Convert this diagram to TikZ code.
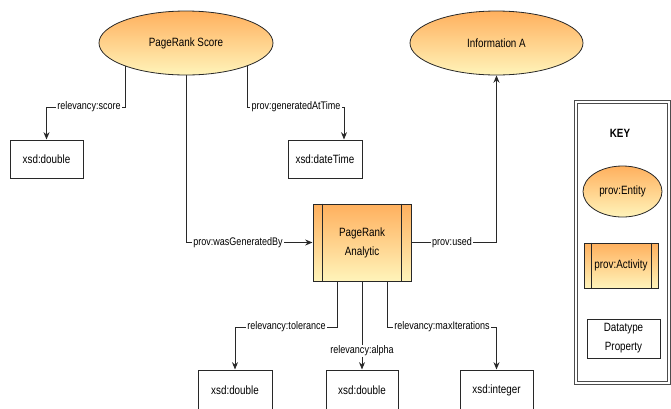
\documentclass[tikz,border=0pt]{standalone}
\usepackage{fontspec}
\setmainfont{Liberation Sans}[FakeStretch=0.82]
\usetikzlibrary{shapes.geometric,arrows.meta}
\pgfdeclarelayer{bg}
\pgfsetlayers{bg,main}
\definecolor{ortop}{RGB}{255,176,94}
\definecolor{orbot}{RGB}{255,244,186}
\definecolor{ln}{RGB}{40,40,40}
\newcommand\myNodeFont{\fontsize{9}{14.25}\selectfont}
\newcommand\myLblFont{\fontsize{8.25}{10}\selectfont}
\tikzset{
 ent/.style={ellipse, draw=ln, line width=0.6pt, top color=ortop, bottom color=orbot, inner sep=0pt, font=\myNodeFont},
 activity/.style={rectangle, draw=ln, line width=0.75pt, top color=ortop, bottom color=orbot, inner sep=0pt, align=center, font=\myNodeFont},
 dtype/.style={rectangle, draw=ln, line width=0.75pt, fill=white, inner sep=0pt, align=center, font=\myNodeFont},
 lbl/.style={fill=white, inner sep=0.8pt, font=\myLblFont},
 conn/.style={draw=ln, line width=0.75pt},
 arr/.style={conn, -{Stealth[length=5.5pt,width=4.5pt]}},
 keyframe/.style={rectangle, draw=black!70, line width=0.6pt, double=white, double distance=1.6pt, inner sep=0pt},
}
\begin{document}
\begin{tikzpicture}[x=0.75pt,y=-0.75pt]
\useasboundingbox (0,0) rectangle (671,408);
\clip (0,0) rectangle (671,408);
% main nodes
\node[ent, minimum width=130.5pt, minimum height=48pt] (score) at (186,43) {PageRank Score};
\node[ent, minimum width=129.75pt, minimum height=48pt] (info) at (496.5,43) {Information A};
\node[dtype, minimum width=54.75pt, minimum height=28.5pt] (dbl1) at (46.5,159) {xsd:double};
\node[dtype, minimum width=55.5pt, minimum height=28.5pt] (dt) at (325,159) {xsd:dateTime};
\node[activity, minimum width=73.5pt, minimum height=57.75pt] (act) at (362,242.5) {PageRank\\Analytic};
\draw[conn] ([xshift=7.5pt]act.north west) -- ([xshift=7.5pt]act.south west);
\draw[conn] ([xshift=-7.5pt]act.north east) -- ([xshift=-7.5pt]act.south east);
\node[dtype, minimum width=55.5pt, minimum height=30pt] (dbl2) at (235,390) {xsd:double};
\node[dtype, minimum width=54pt, minimum height=30pt] (dbl3) at (362,390) {xsd:double};
\node[dtype, minimum width=54.75pt, minimum height=30pt] (int) at (496.5,390) {xsd:integer};
% key
\node[keyframe, minimum width=69.75pt, minimum height=210.56pt] (key) at (622.5,242.4) {};
\node[font=\bfseries\myNodeFont] (keyt) at (620,133) {KEY};
\node[ent, minimum width=59.25pt, minimum height=38.25pt] (kent) at (622.5,191.5) {prov:Entity};
\node[activity, minimum width=55.5pt, minimum height=33.75pt] (kact) at (621,265.5) {prov:Activity};
\draw[conn] ([xshift=6pt]kact.north west) -- ([xshift=6pt]kact.south west);
\draw[conn] ([xshift=-5.25pt]kact.north east) -- ([xshift=-5.25pt]kact.south east);
\node[dtype, minimum width=54.75pt, minimum height=29.25pt] (kdp) at (623.5,338.5) {Datatype\\Property};
% connectors
\begin{pgfonlayer}{bg}
\draw[arr] ([xshift=-45.75pt]score.center) |- (89,107) node[lbl]{relevancy:score} -| (dbl1.north);
\draw[arr] ([xshift=45.75pt]score.center) |- (296,107) node[lbl]{prov:generatedAtTime} -| ([xshift=14.25pt]dt.north);
\draw[arr] (score.center) |- (238,242.5) node[lbl]{prov:wasGeneratedBy} -- (act.west);
\draw[arr] (act.east) -- (452,242.5) node[lbl]{prov:used} -| (info.south);
\draw[arr] ([xshift=-18.75pt]act.south) |- (286.5,327) node[lbl]{relevancy:tolerance} -| (dbl2.north);
\draw[arr] (act.south) -- node[lbl, pos=0.79]{relevancy:alpha} (dbl3.north);
\draw[arr] ([xshift=18.75pt]act.south) |- (442,327) node[lbl]{relevancy:maxIterations} -| (int.north);
\end{pgfonlayer}
\end{tikzpicture}
\end{document}
